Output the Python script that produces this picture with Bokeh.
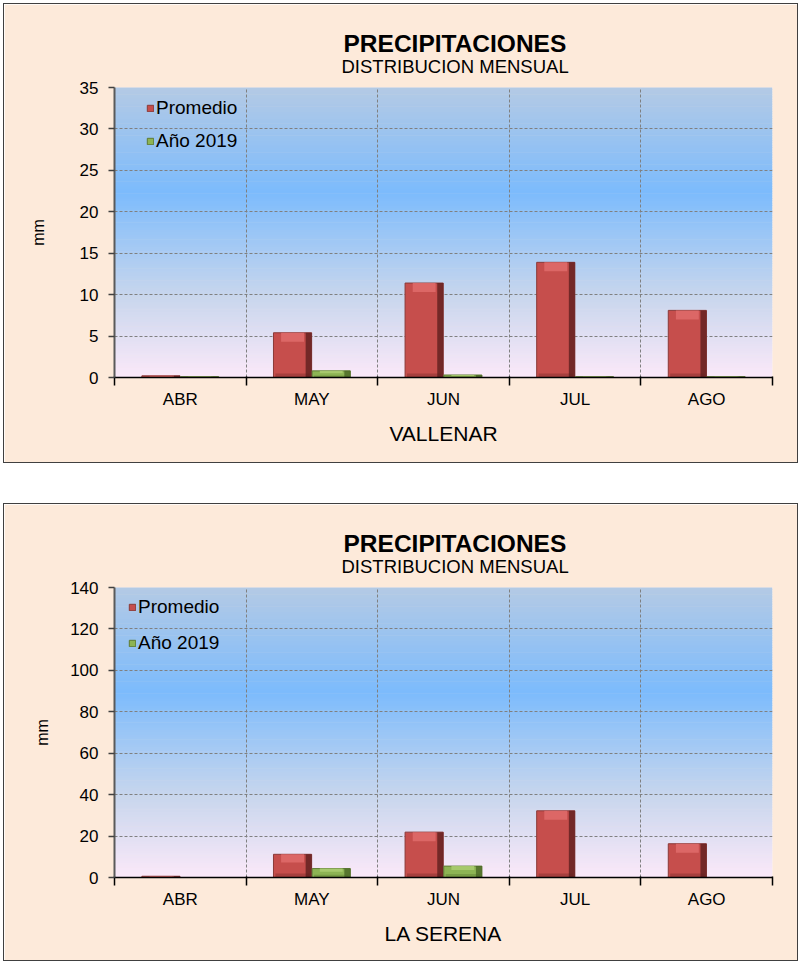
import numpy as np
from bokeh.plotting import figure
from bokeh.models import (ColumnDataSource, FixedTicker, BoxAnnotation, Title,
                          Legend, LegendItem, Spacer, Range1d)
from bokeh.layouts import column
from bokeh.embed import file_html
from bokeh.resources import INLINE

# ---------------- data ----------------
months = ["ABR", "MAY", "JUN", "JUL", "AGO"]
series_names = ["Promedio", "Año 2019"]

vallenar_promedio = [0.2, 5.4, 11.4, 13.9, 8.1]
vallenar_2019 = [0.1, 0.8, 0.3, 0.1, 0.1]
vallenar_ticks = [0, 5, 10, 15, 20, 25, 30, 35]

serena_promedio = [0.6, 11.2, 21.9, 32.2, 16.3]
serena_2019 = [0.0, 4.3, 5.5, 0.0, 0.0]
serena_ticks = [0, 20, 40, 60, 80, 100, 120, 140]

title_main = "PRECIPITACIONES"
title_sub = "DISTRIBUCION MENSUAL"
y_label = "mm"

FONT = "Liberation Sans"
PEACH = "#FDEADA"

# gradient stops (fraction from top, rgb)
STOPS = [(0.0, (180, 202, 229)), (0.36, (124, 187, 252)),
         (0.72, (200, 214, 237)), (1.0, (251, 233, 249))]


def grad(t):
    for (t0, c0), (t1, c1) in zip(STOPS[:-1], STOPS[1:]):
        if t0 <= t <= t1:
            f = (t - t0) / (t1 - t0)
            c = [int(round(a + (b - a) * f)) for a, b in zip(c0, c1)]
            return "#%02x%02x%02x" % tuple(c)
    return "#%02x%02x%02x" % STOPS[-1][1]


def make_chart(prom, y19, ticks, station, height, top_border, leg_x, leg_top,
               leg_spacing, ylab_standoff, margin):
    ymax = ticks[-1]
    frame_w, frame_h = 658, 290
    p = figure(width=795, height=height, output_backend="svg", toolbar_location=None,
               x_range=Range1d(0, len(months)), y_range=Range1d(0, ymax),
               min_border_left=110, min_border_right=795 - 110 - frame_w,
               min_border_top=top_border,
               min_border_bottom=height - top_border - frame_h,
               border_fill_color=PEACH, background_fill_color=PEACH,
               outline_line_color=None, title=None, margin=margin)
    p.styles = {"border": "1px solid #404040"}

    # background gradient of the plot area
    n = 120
    boxes = []
    for i in range(n):
        b = ymax * i / n
        t = ymax * (i + 1) / n + ymax * 0.002
        boxes.append(BoxAnnotation(bottom=b, top=t, fill_color=grad(1 - (i + 0.5) / n),
                                   fill_alpha=1.0, line_color=None, level="underlay"))
    p.center = boxes + list(p.center)

    centers = np.arange(len(months)) + 0.5
    bounds = list(range(len(months) + 1))
    off, w = 0.147, 0.29
    ppu = frame_h / ymax
    cat_px = frame_w / len(months)

    legend_items = []
    styles = [("#C64E4C", "#DE6A69", "#5E1F1E", "#8A3A38"),
              ("#8DB454", "#AACB70", "#4A6626", "#5E7A34")]
    for k, (vals, dx) in enumerate([(prom, -off), (y19, off)]):
        main, light, dark, edge = styles[k]
        xs = centers + dx
        vals = np.array(vals, dtype=float)
        src = ColumnDataSource(dict(x=xs, top=vals,
                                    bev=vals - np.minimum(9 / ppu, vals * 0.35),
                                    bot=np.minimum(4 / ppu, vals * 0.3)))
        r = p.vbar(x="x", top="top", bottom=0, width=w, source=src,
                   fill_color=main, line_color=edge, line_width=1)
        p.vbar(x="x", top="top", bottom="bev", width=w * 0.6, source=src,
               fill_color=light, line_color=None, fill_alpha=0.9)
        p.vbar(x="x", top="bot", bottom=0, width=w * 0.9, source=src,
               fill_color=dark, line_color=None, fill_alpha=0.3)
        src2 = ColumnDataSource(dict(x=xs + w / 2 - (3 / cat_px), top=vals))
        p.vbar(x="x", top="top", bottom=0, width=6 / cat_px, source=src2,
               fill_color=dark, line_color=None, fill_alpha=0.8)
        legend_items.append(LegendItem(label=series_names[k], renderers=[r]))

    # grids
    p.xgrid.ticker = FixedTicker(ticks=bounds)
    for g in (p.xgrid, p.ygrid):
        g.grid_line_color = "#808080"
        g.grid_line_dash = "3 2"
        g.grid_line_width = 1

    # x axis
    xa = p.xaxis[0]
    xa.ticker = FixedTicker(ticks=list(centers), minor_ticks=bounds)
    xa.major_label_overrides = {float(c): m for c, m in zip(centers, months)}
    xa.major_tick_out = 0
    xa.major_tick_in = 0
    xa.minor_tick_out = 8
    xa.minor_tick_in = 1
    xa.minor_tick_line_color = "#000000"
    xa.minor_tick_line_width = 1.5
    xa.axis_line_color = "#000000"
    xa.axis_line_width = 1.5
    xa.major_label_standoff = 4
    xa.major_label_text_font = FONT
    xa.major_label_text_font_size = "17px"
    xa.major_label_text_color = "#000000"
    xa.axis_label = station
    xa.axis_label_standoff = 10
    xa.axis_label_text_font = FONT
    xa.axis_label_text_font_size = "21px"
    xa.axis_label_text_font_style = "normal"
    xa.axis_label_text_color = "#000000"

    # y axis
    ya = p.yaxis[0]
    ya.ticker = FixedTicker(ticks=ticks)
    ya.major_tick_out = 6
    ya.major_tick_in = 0
    ya.major_tick_line_color = "#404040"
    ya.major_tick_line_width = 1.5
    ya.axis_line_color = "#5A5A5A"
    ya.axis_line_width = 2
    ya.major_label_standoff = 10
    ya.major_label_text_font = FONT
    ya.major_label_text_font_size = "17px"
    ya.major_label_text_color = "#000000"
    ya.axis_label = y_label
    ya.axis_label_standoff = ylab_standoff
    ya.axis_label_text_font = FONT
    ya.axis_label_text_font_size = "16px"
    ya.axis_label_text_font_style = "normal"
    ya.axis_label_text_color = "#000000"

    # titles (subtitle nearest the plot)
    p.add_layout(Title(text=title_sub, align="left", offset=227, text_font=FONT,
                       text_font_size="18.5px", text_font_style="normal",
                       text_color="#000000", standoff=21), "above")
    p.add_layout(Title(text=title_main, align="left", offset=229, text_font=FONT,
                       text_font_size="24.5px", text_font_style="bold",
                       text_color="#000000", standoff=-26), "above")

    # legend
    label_h = 21
    leg_h = 2 * label_h + leg_spacing
    legend = Legend(items=legend_items, location=(leg_x, frame_h - leg_top - leg_h),
                    orientation="vertical", glyph_width=8, glyph_height=8,
                    label_height=label_h, label_standoff=2, spacing=leg_spacing,
                    padding=0, margin=0, border_line_color=None,
                    background_fill_alpha=0, label_text_font=FONT,
                    label_text_font_size="19px", label_text_color="#000000")
    p.add_layout(legend)
    return p


p1 = make_chart(vallenar_promedio, vallenar_2019, vallenar_ticks, "VALLENAR",
                height=460, top_border=83, leg_x=32, leg_top=12, leg_spacing=11,
                ylab_standoff=30, margin=(3, 0, 0, 3))
p2 = make_chart(serena_promedio, serena_2019, serena_ticks, "LA SERENA",
                height=458, top_border=83, leg_x=14, leg_top=11, leg_spacing=14,
                ylab_standoff=16, margin=(0, 0, 0, 3))

layout = column(p1, Spacer(height=40), p2)
open("out.html", "w").write(file_html(layout, INLINE))
